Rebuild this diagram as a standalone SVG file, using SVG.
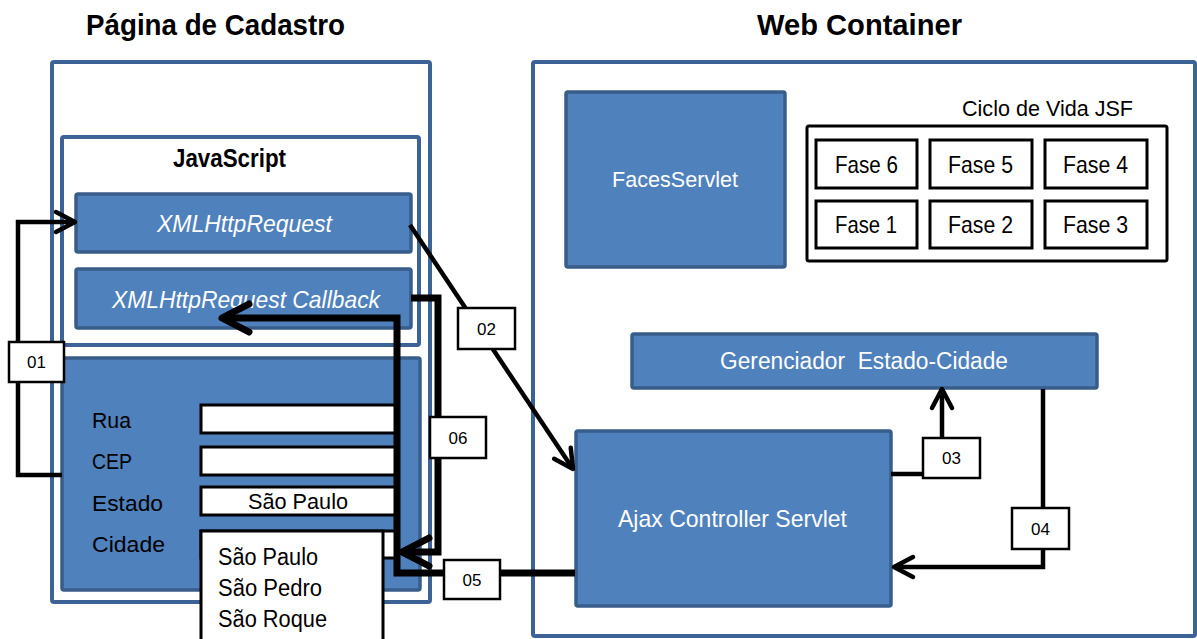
<svg xmlns="http://www.w3.org/2000/svg" width="1197" height="639" viewBox="0 0 1197 639">
<style>
text{font-family:"Liberation Sans",Arial,sans-serif;fill:#000}
.title{font-weight:bold;font-size:30px}
.cont{fill:#fff;stroke:#3D6396;stroke-width:4}
.blue{fill:#4F81BD;stroke:#385D8A;stroke-width:3.5}
.wt{fill:#fff}
.field{fill:#fff;stroke:#000;stroke-width:3}
.phase{fill:#fff;stroke:#000;stroke-width:3}
.lbl{fill:#fff;stroke:#000;stroke-width:2.5}
.lt{font-size:17px;text-anchor:middle}
.thin{fill:none;stroke:#000;stroke-width:4.5;stroke-linejoin:miter}
.thick{fill:none;stroke:#000;stroke-width:7;stroke-linejoin:miter}
</style>
<defs>
<marker id="ah" markerUnits="userSpaceOnUse" orient="auto" markerWidth="40" markerHeight="40" viewBox="-30 -20 40 40" refX="0" refY="0" overflow="visible">
<path d="M-19,-10 L0,0 L-19,10" fill="none" stroke="#000" stroke-width="4.5" stroke-linecap="round" stroke-linejoin="round"/>
</marker>
<marker id="ahb" markerUnits="userSpaceOnUse" orient="auto" markerWidth="50" markerHeight="50" viewBox="-40 -25 50 50" refX="0" refY="0" overflow="visible">
<path d="M-27,-14 L0,0 L-27,14" fill="none" stroke="#000" stroke-width="7" stroke-linecap="round" stroke-linejoin="round"/>
</marker>
</defs>
<rect width="1197" height="639" fill="#fff"/>

<g id="titles">
<text class="title" x="86" y="35" textLength="259" lengthAdjust="spacingAndGlyphs">Página de Cadastro</text>
<text class="title" x="757" y="35" textLength="205" lengthAdjust="spacingAndGlyphs">Web Container</text>
</g>

<g id="pagina-cadastro">
<rect class="cont" x="52" y="62" width="378" height="540" rx="2"/>
</g>

<g id="javascript">
<rect class="cont" x="62" y="137" width="357" height="208" rx="2"/>
<text x="173" y="167" font-weight="bold" font-size="25" textLength="113" lengthAdjust="spacingAndGlyphs">JavaScript</text>
</g>

<g id="xmlhttprequest">
<rect class="blue" x="76" y="194" width="335" height="58" rx="2"/>
<text class="wt" x="157" y="232" font-style="italic" font-size="24" textLength="175" lengthAdjust="spacingAndGlyphs">XMLHttpRequest</text>
</g>

<g id="callback">
<rect class="blue" x="76" y="269" width="335" height="59" rx="2"/>
<text class="wt" x="112" y="308" font-style="italic" font-size="24" textLength="268" lengthAdjust="spacingAndGlyphs">XMLHttpRequest Callback</text>
</g>

<g id="formulario">
<rect class="blue" x="62" y="358" width="358" height="232" rx="2"/>
<text x="92" y="428" font-size="22" textLength="39" lengthAdjust="spacingAndGlyphs">Rua</text>
<text x="92" y="469" font-size="22" textLength="40" lengthAdjust="spacingAndGlyphs">CEP</text>
<text x="92" y="511" font-size="22" textLength="71" lengthAdjust="spacingAndGlyphs">Estado</text>
<text x="92" y="552" font-size="22" textLength="73" lengthAdjust="spacingAndGlyphs">Cidade</text>
<rect class="field" x="201" y="405" width="195" height="28"/>
<rect class="field" x="201" y="447" width="195" height="28"/>
<rect class="field" x="201" y="487" width="195" height="28"/>
<text x="248" y="509" font-size="22" textLength="100" lengthAdjust="spacingAndGlyphs">São Paulo</text>
<rect class="field" x="201" y="531" width="195" height="27"/>
<rect class="field" x="201" y="531" width="182" height="120"/>
<text x="218" y="565" font-size="23" textLength="100" lengthAdjust="spacingAndGlyphs">São Paulo</text>
<text x="218" y="596" font-size="23" textLength="104" lengthAdjust="spacingAndGlyphs">São Pedro</text>
<text x="218" y="627" font-size="23" textLength="109" lengthAdjust="spacingAndGlyphs">São Roque</text>
</g>

<g id="web-container">
<rect class="cont" x="533" y="62" width="662" height="574" rx="2"/>
</g>

<g id="facesservlet">
<rect class="blue" x="566" y="92" width="219" height="175" rx="2"/>
<text class="wt" x="612" y="187" font-size="22" textLength="126" lengthAdjust="spacingAndGlyphs">FacesServlet</text>
</g>

<g id="ciclo-de-vida-jsf">
<text x="962" y="116" font-size="22" textLength="171" lengthAdjust="spacingAndGlyphs">Ciclo de Vida JSF</text>
<rect class="phase" x="807" y="126" width="360" height="135" rx="2"/>
<rect class="phase" x="816" y="140" width="101" height="48"/>
<rect class="phase" x="930" y="140" width="102" height="48"/>
<rect class="phase" x="1045" y="140" width="102" height="48"/>
<rect class="phase" x="816" y="201" width="101" height="47"/>
<rect class="phase" x="930" y="201" width="102" height="47"/>
<rect class="phase" x="1045" y="201" width="102" height="47"/>
<text x="835" y="173" font-size="24" textLength="63" lengthAdjust="spacingAndGlyphs">Fase 6</text>
<text x="948" y="173" font-size="24" textLength="65" lengthAdjust="spacingAndGlyphs">Fase 5</text>
<text x="1063" y="173" font-size="24" textLength="65" lengthAdjust="spacingAndGlyphs">Fase 4</text>
<text x="835" y="233" font-size="24" textLength="62" lengthAdjust="spacingAndGlyphs">Fase 1</text>
<text x="948" y="233" font-size="24" textLength="65" lengthAdjust="spacingAndGlyphs">Fase 2</text>
<text x="1063" y="233" font-size="24" textLength="65" lengthAdjust="spacingAndGlyphs">Fase 3</text>
</g>

<g id="gerenciador">
<rect class="blue" x="632" y="334" width="465" height="54" rx="2"/>
<text class="wt" x="720" y="369" font-size="23" textLength="288" lengthAdjust="spacingAndGlyphs" xml:space="preserve">Gerenciador  Estado-Cidade</text>
</g>

<g id="ajax-controller">
<rect class="blue" x="576" y="431" width="315" height="175" rx="2"/>
<text class="wt" x="618" y="527" font-size="24" textLength="229" lengthAdjust="spacingAndGlyphs">Ajax Controller Servlet</text>
</g>

<g id="connectors">
<path class="thin" d="M62,475 H18 V222 H75" marker-end="url(#ah)"/>
<path class="thin" d="M410,225 L573,469" marker-end="url(#ah)"/>
<path class="thin" d="M891,474 H942 V389" marker-end="url(#ah)"/>
<path class="thin" d="M1043,389 V567 H894" marker-end="url(#ah)"/>
<path class="thick" d="M575,573 H397 V318 H222" marker-end="url(#ahb)"/>
<path class="thick" d="M411,298 H438 V552 H402" marker-end="url(#ahb)"/>
<g id="label-01"><rect class="lbl" x="9" y="342" width="55" height="40"/><text class="lt" x="36.5" y="368">01</text></g>
<g id="label-02"><rect class="lbl" x="458" y="308" width="57" height="41"/><text class="lt" x="486.5" y="334.5">02</text></g>
<g id="label-03"><rect class="lbl" x="923" y="438" width="57" height="40"/><text class="lt" x="951.5" y="464">03</text></g>
<g id="label-04"><rect class="lbl" x="1012" y="508" width="57" height="41"/><text class="lt" x="1040.5" y="534.5">04</text></g>
<g id="label-05"><rect class="lbl" x="444" y="560" width="56" height="39"/><text class="lt" x="472" y="585.5">05</text></g>
<g id="label-06"><rect class="lbl" x="430" y="417" width="56" height="41"/><text class="lt" x="458" y="443.5">06</text></g>
</g>
</svg>
